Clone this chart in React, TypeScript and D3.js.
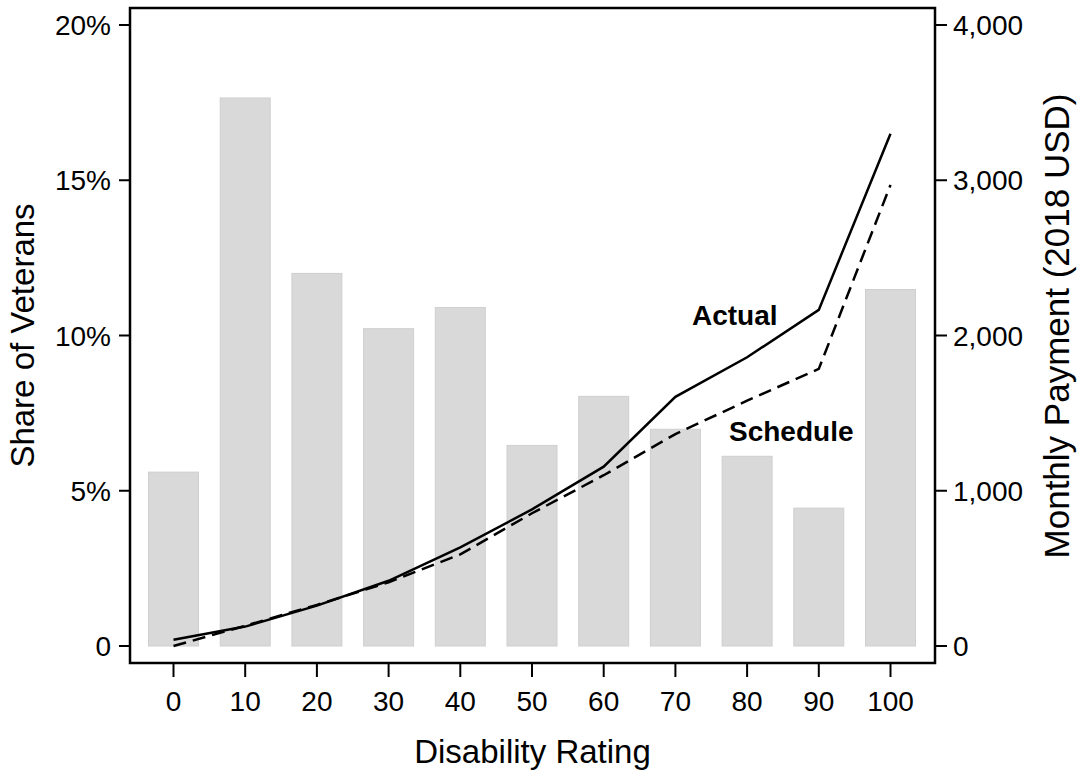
import { useEffect, useRef } from "react";
import * as d3 from "d3";

// disability rating categories (x)
const ratings = [0, 10, 20, 30, 40, 50, 60, 70, 80, 90, 100];
// share of veterans at each rating, percent (left axis)
const shareOfVeterans = [5.6, 17.65, 12.0, 10.22, 10.9, 6.46, 8.04, 6.98, 6.11, 4.44, 11.48];
// monthly payment, 2018 USD (right axis)
const actualPayment = [40, 125, 260, 420, 635, 880, 1155, 1605, 1860, 2165, 3300];
const schedulePayment = [0, 130, 265, 410, 590, 855, 1100, 1365, 1580, 1785, 2970];

const leftTicks = [0, 5, 10, 15, 20];
const rightTicks = [0, 1000, 2000, 3000, 4000];

const FONT = "'Liberation Sans', Arial, Helvetica, sans-serif";

export default function App() {
  const ref = useRef<SVGSVGElement>(null);

  useEffect(() => {
    const svg = d3.select(ref.current);
    svg.selectAll("*").remove();

    const left = 130;
    const right = 935;
    const top = 8;
    const bottom = 663;

    const x = d3.scaleLinear().domain([0, 100]).range([173.5, 890.5]);
    const yL = d3.scaleLinear().domain([0, 20]).range([646, 25]);
    const yR = d3.scaleLinear().domain([0, 4000]).range([646, 25]);
    const barW = 50;

    // bars
    svg
      .append("g")
      .selectAll("rect")
      .data(ratings)
      .join("rect")
      .attr("x", (d) => x(d) - barW / 2)
      .attr("y", (d, i) => yL(shareOfVeterans[i]))
      .attr("width", barW)
      .attr("height", (d, i) => yL(0) - yL(shareOfVeterans[i]))
      .attr("fill", "#d9d9d9")
      .attr("stroke", "#cfcfcf")
      .attr("stroke-width", 1);

    const line = d3
      .line<number>()
      .x((d, i) => x(ratings[i]))
      .y((d) => yR(d));

    svg
      .append("path")
      .datum(schedulePayment)
      .attr("d", line)
      .attr("fill", "none")
      .attr("stroke", "black")
      .attr("stroke-width", 2.5)
      .attr("stroke-dasharray", "13,7");

    svg
      .append("path")
      .datum(actualPayment)
      .attr("d", line)
      .attr("fill", "none")
      .attr("stroke", "black")
      .attr("stroke-width", 2.5);

    // frame
    svg
      .append("rect")
      .attr("x", left)
      .attr("y", top)
      .attr("width", right - left)
      .attr("height", bottom - top)
      .attr("fill", "none")
      .attr("stroke", "black")
      .attr("stroke-width", 2.5);

    // left axis
    const gL = svg.append("g").attr("font-family", FONT).attr("font-size", 28);
    gL.selectAll("line")
      .data(leftTicks)
      .join("line")
      .attr("x1", left - 11)
      .attr("x2", left)
      .attr("y1", (d) => yL(d))
      .attr("y2", (d) => yL(d))
      .attr("stroke", "black")
      .attr("stroke-width", 2);
    gL.selectAll("text")
      .data(leftTicks)
      .join("text")
      .attr("x", left - 19)
      .attr("y", (d) => yL(d))
      .attr("dy", "0.36em")
      .attr("text-anchor", "end")
      .text((d) => (d === 0 ? "0" : d + "%"));

    // right axis
    const gR = svg.append("g").attr("font-family", FONT).attr("font-size", 28);
    gR.selectAll("line")
      .data(rightTicks)
      .join("line")
      .attr("x1", right)
      .attr("x2", right + 12)
      .attr("y1", (d) => yR(d))
      .attr("y2", (d) => yR(d))
      .attr("stroke", "black")
      .attr("stroke-width", 2);
    gR.selectAll("text")
      .data(rightTicks)
      .join("text")
      .attr("x", right + 18)
      .attr("y", (d) => yR(d))
      .attr("dy", "0.36em")
      .attr("text-anchor", "start")
      .text((d) => d3.format(",")(d));

    // bottom axis
    const gB = svg.append("g").attr("font-family", FONT).attr("font-size", 28);
    gB.selectAll("line")
      .data(ratings)
      .join("line")
      .attr("x1", (d) => x(d))
      .attr("x2", (d) => x(d))
      .attr("y1", bottom)
      .attr("y2", bottom + 14)
      .attr("stroke", "black")
      .attr("stroke-width", 2);
    gB.selectAll("text")
      .data(ratings)
      .join("text")
      .attr("x", (d) => x(d))
      .attr("y", 711)
      .attr("text-anchor", "middle")
      .text((d) => d);

    // axis titles
    svg
      .append("text")
      .attr("x", (left + right) / 2)
      .attr("y", 763)
      .attr("text-anchor", "middle")
      .attr("font-family", FONT)
      .attr("font-size", 33)
      .text("Disability Rating");

    svg
      .append("text")
      .attr("transform", `translate(34,${(top + bottom) / 2}) rotate(-90)`)
      .attr("text-anchor", "middle")
      .attr("font-family", FONT)
      .attr("font-size", 33)
      .text("Share of Veterans");

    svg
      .append("text")
      .attr("transform", `translate(1069,326) rotate(-90)`)
      .attr("text-anchor", "middle")
      .attr("font-family", FONT)
      .attr("font-size", 35)
      .text("Monthly Payment (2018 USD)");

    // line labels
    svg
      .append("text")
      .attr("x", 692)
      .attr("y", 325)
      .attr("font-family", FONT)
      .attr("font-size", 28)
      .attr("font-weight", "bold")
      .text("Actual");

    svg
      .append("text")
      .attr("x", 729)
      .attr("y", 441)
      .attr("font-family", FONT)
      .attr("font-size", 28)
      .attr("font-weight", "bold")
      .text("Schedule");
  }, []);

  return (
    <svg
      ref={ref}
      width={1079}
      height={774}
      style={{ position: "absolute", left: 0, top: 0, background: "white" }}
    />
  );
}
